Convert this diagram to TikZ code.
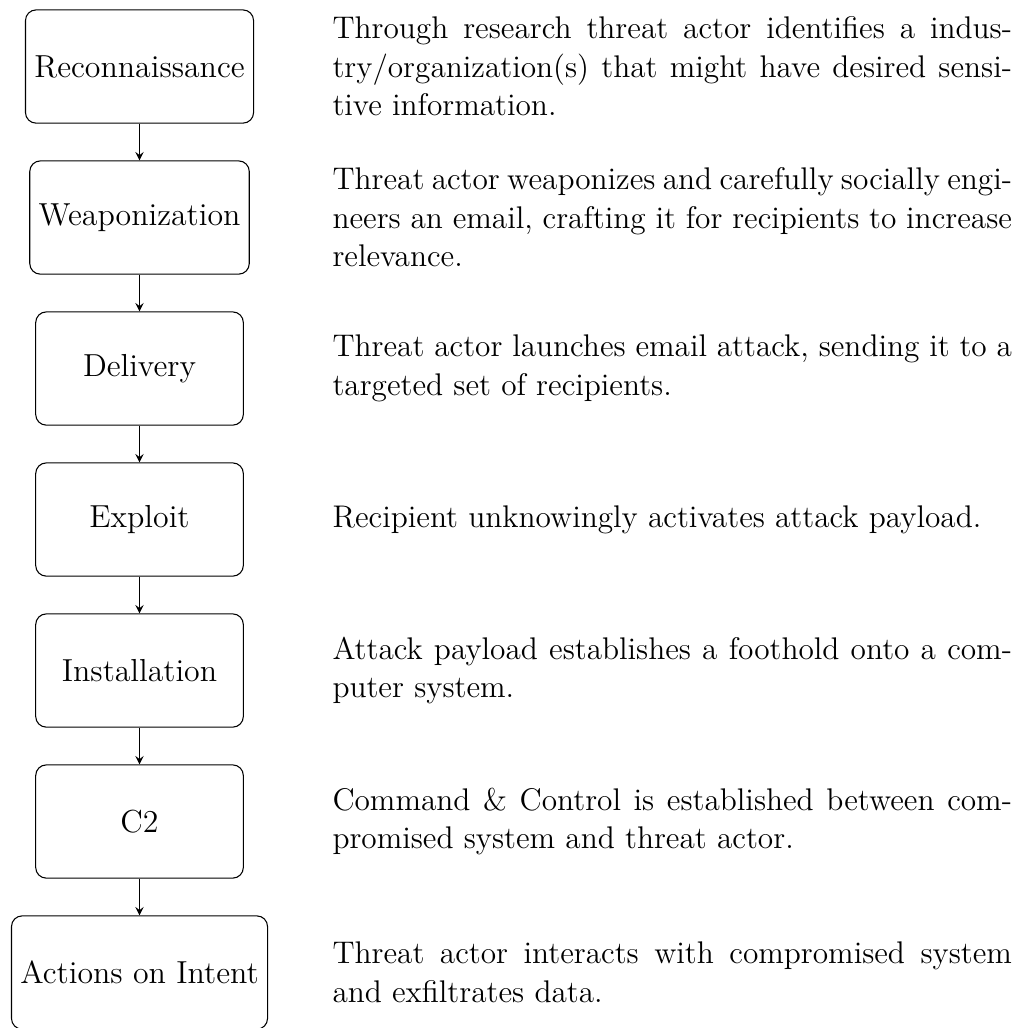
\documentclass[tikz,border=0pt]{standalone}
\usetikzlibrary{arrows}
\begin{document}
\begin{tikzpicture}[
  font=\fontsize{12pt}{14.5pt}\selectfont,
  stage/.style={draw, rounded corners, minimum width=2.75cm, minimum height=1.5cm},
  desc/.style={anchor=west, text width=9cm, align=justify, inner sep=0pt,
    font=\fontsize{11.8pt}{14.5pt}\selectfont},
  flow/.style={-stealth}
]
\useasboundingbox (0,0) rectangle (13.470,-13.616);
\node[stage] (s1) at (1.848,-0.881) {Reconnaissance};
\node[stage] (s2) at (1.848,-2.881) {Weaponization};
\node[stage] (s3) at (1.848,-4.881) {Delivery};
\node[stage] (s4) at (1.848,-6.881) {Exploit};
\node[stage] (s5) at (1.848,-8.881) {Installation};
\node[stage] (s6) at (1.848,-10.881) {C2};
\node[stage] (s7) at (1.848,-12.881) {Actions on Intent};
\draw[flow] (s1) -- (s2);
\draw[flow] (s2) -- (s3);
\draw[flow] (s3) -- (s4);
\draw[flow] (s4) -- (s5);
\draw[flow] (s5) -- (s6);
\draw[flow] (s6) -- (s7);
\node[desc] (d1) at (4.397,-0.881) {Through research threat actor identifies a industry/organization(s) that might have desired sensitive information.};
\node[desc] (d2) at (4.397,-2.881) {Threat actor weaponizes and carefully socially engineers an email, crafting it for recipients to increase relevance.};
\node[desc] (d3) at (4.397,-4.881) {Threat actor launches email attack, sending it to a targeted set of recipients.};
\node[desc] (d4) at (4.397,-6.881) {Recipient unknowingly activates attack payload.};
\node[desc] (d5) at (4.397,-8.881) {Attack payload establishes a foothold onto a computer system.};
\node[desc] (d6) at (4.397,-10.881) {Command \& Control is established between compromised system and threat actor.};
\node[desc] (d7) at (4.397,-12.881) {Threat actor interacts with compromised system and exfiltrates data.};
\end{tikzpicture}
\end{document}
